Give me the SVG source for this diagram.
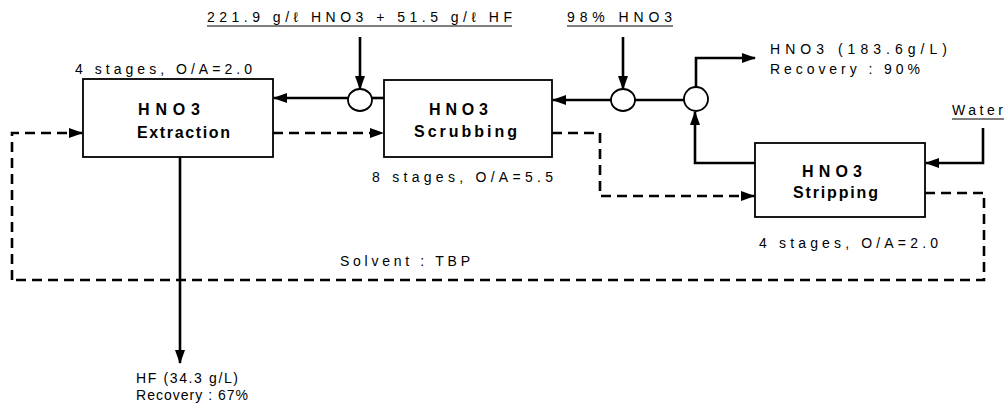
<svg xmlns="http://www.w3.org/2000/svg" width="1008" height="416" viewBox="0 0 1008 416">
<style>
.box{fill:#fff;stroke:#000;stroke-width:1.8}
.ln{fill:none;stroke:#000;stroke-width:2.6}
.ds{fill:none;stroke:#000;stroke-width:2.6;stroke-dasharray:10 6}
.mx{fill:#fff;stroke:#000;stroke-width:1.8}
.t{font-family:"Liberation Sans",Arial,sans-serif;font-size:14px;fill:#000}
.b{font-family:"Liberation Sans",Arial,sans-serif;font-size:16px;font-weight:bold;fill:#000}
.u{stroke:#000;stroke-width:1.2}
</style>
<defs>
<marker id="ah" markerWidth="14" markerHeight="10" refX="13" refY="5" orient="auto" markerUnits="userSpaceOnUse">
<path d="M0,0 L14,5 L0,10 Z" fill="#000"/>
</marker>
</defs>
<rect width="1008" height="416" fill="#fff"/>
<g id="connectors">
<path class="ln" d="M360,37 V89" marker-end="url(#ah)"/>
<path class="ln" d="M348,98 H274" marker-end="url(#ah)"/>
<path class="ln" d="M372,98 H384"/>
<path class="ln" d="M611,100 H553" marker-end="url(#ah)"/>
<path class="ln" d="M623,37 V89" marker-end="url(#ah)"/>
<path class="ln" d="M635,100 H684"/>
<path class="ln" d="M696,87 V58 H755" marker-end="url(#ah)"/>
<path class="ln" d="M755,163 H695 V112" marker-end="url(#ah)"/>
<path class="ln" d="M983,128 V163 H926" marker-end="url(#ah)"/>
<path class="ln" d="M180,157 V363" marker-end="url(#ah)"/>
<path class="ds" d="M12,280 V133 H82" marker-end="url(#ah)"/>
<path class="ds" d="M273,133 H383" marker-end="url(#ah)"/>
<path class="ds" d="M552,133 H600 V196 H754" marker-end="url(#ah)"/>
<path class="ds" d="M925,193 H984 V280 H12"/>
<ellipse class="mx" cx="360" cy="100" rx="12" ry="11"/>
<ellipse class="mx" cx="623" cy="100" rx="12" ry="11"/>
<ellipse class="mx" cx="696" cy="99" rx="12" ry="12"/>
</g>
<g id="extraction">
<rect class="box" x="83" y="79" width="190" height="78"/>
<text class="b" x="138" y="115" textLength="62" lengthAdjust="spacing">HNO3</text>
<text class="b" x="137" y="138" textLength="93" lengthAdjust="spacing">Extraction</text>
<text class="t" x="75" y="74" textLength="177" lengthAdjust="spacing">4 stages, O/A=2.0</text>
</g>
<g id="scrubbing">
<rect class="box" x="384" y="80" width="168" height="77"/>
<text class="b" x="429" y="115" textLength="59" lengthAdjust="spacing">HNO3</text>
<text class="b" x="414" y="137" textLength="103" lengthAdjust="spacing">Scrubbing</text>
<text class="t" x="372" y="182" textLength="181" lengthAdjust="spacing">8 stages, O/A=5.5</text>
</g>
<g id="stripping">
<rect class="box" x="755" y="143" width="170" height="74"/>
<text class="b" x="802" y="177" textLength="60" lengthAdjust="spacing">HNO3</text>
<text class="b" x="793" y="198" textLength="85" lengthAdjust="spacing">Stripping</text>
<text class="t" x="759" y="248" textLength="179" lengthAdjust="spacing">4 stages, O/A=2.0</text>
</g>
<g id="feed">
<text class="t" x="207" y="22" textLength="305" lengthAdjust="spacing">221.9 g/ℓ HNO3 + 51.5 g/ℓ HF</text>
<line class="u" x1="207" y1="26" x2="512" y2="26"/>
</g>
<g id="hno3-feed">
<text class="t" x="567" y="22" textLength="105" lengthAdjust="spacing">98% HNO3</text>
<line class="u" x1="567" y1="26" x2="673" y2="26"/>
</g>
<g id="hno3-product">
<text class="t" x="770" y="54" textLength="177" lengthAdjust="spacing">HNO3 (183.6g/L)</text>
<text class="t" x="770" y="74" textLength="150" lengthAdjust="spacing">Recovery : 90%</text>
</g>
<g id="water">
<text class="t" x="952" y="115" textLength="51" lengthAdjust="spacing">Water</text>
<line class="u" x1="952" y1="119" x2="1004" y2="119"/>
</g>
<g id="hf-product">
<text class="t" x="136" y="383" textLength="102" lengthAdjust="spacing">HF (34.3 g/L)</text>
<text class="t" x="136" y="400" textLength="112" lengthAdjust="spacing">Recovery : 67%</text>
</g>
<g id="solvent">
<text class="t" x="340" y="266" textLength="130" lengthAdjust="spacing">Solvent : TBP</text>
</g>
</svg>
